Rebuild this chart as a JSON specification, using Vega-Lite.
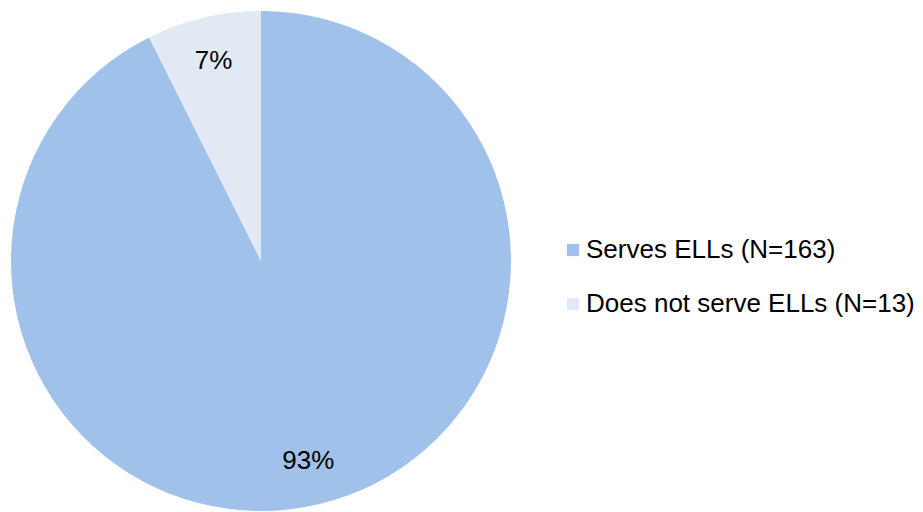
{
  "$schema": "https://vega.github.io/schema/vega-lite/v6.json",
  "width": 522,
  "height": 512,
  "autosize": {"type": "none"},
  "padding": {"left": 0, "top": 5, "right": 401, "bottom": 0},
  "background": "white",
  "config": {"view": {"stroke": null}, "font": "Liberation Sans"},
  "data": {"values": [
    {"category": "Serves ELLs (N=163)", "value": 163, "label": "93%", "order": 1},
    {"category": "Does not serve ELLs (N=13)", "value": 13, "label": "7%", "order": 2}
  ]},
  "encoding": {
    "theta": {"field": "value", "type": "quantitative", "stack": true},
    "order": {"field": "order", "type": "quantitative"}
  },
  "layer": [
    {
      "mark": {"type": "arc", "outerRadius": 250},
      "encoding": {
        "color": {
          "field": "category", "type": "nominal",
          "scale": {"domain": ["Serves ELLs (N=163)", "Does not serve ELLs (N=13)"], "range": ["#A0C1EA", "#E1E9F4"]},
          "legend": {
            "title": null, "orient": "none", "legendX": 560, "legendY": 232,
            "symbolType": "square", "symbolSize": 150, "symbolStrokeWidth": 0,
            "labelFontSize": 26, "labelFont": "Liberation Sans", "labelColor": "#000000",
            "rowPadding": 28, "labelOffset": 0, "labelLimit": 400
          }
        }
      }
    },
    {
      "mark": {"type": "text", "radius": 206, "fontSize": 26, "font": "Liberation Sans", "color": "#000000"},
      "encoding": {"text": {"field": "label", "type": "nominal"}}
    }
  ]
}
